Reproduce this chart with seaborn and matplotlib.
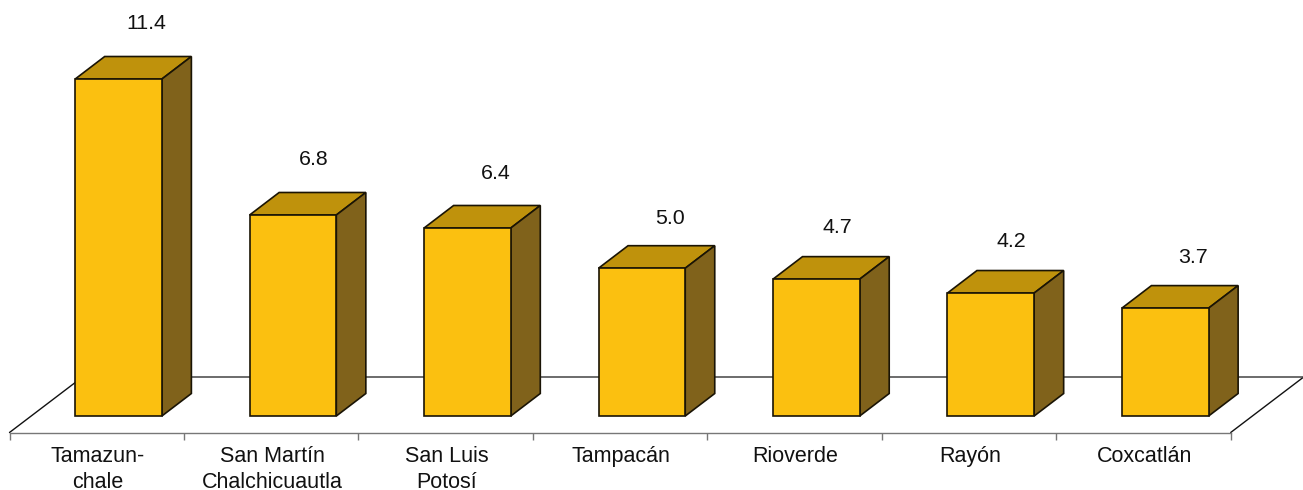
import matplotlib
matplotlib.use("Agg")
import matplotlib.pyplot as plt
from matplotlib.patches import Polygon
from matplotlib.transforms import Affine2D
import numpy as np
import pandas as pd
import seaborn as sns

categories = ["Tamazun-\nchale", "San Martín\nChalchicuautla", "San Luis\nPotosí",
              "Tampacán", "Rioverde", "Rayón", "Coxcatlán"]
values = [11.4, 6.8, 6.36, 5.0, 4.63, 4.16, 3.65]
value_labels = ["11.4", "6.8", "6.4", "5.0", "4.7", "4.2", "3.7"]

FRONT, TOP, SIDE = "#FBC010", "#BF920C", "#80621B"
EDGE = "#1A1405"

W, H = 1303, 490
AX_L, AX_R, AX_B = 9.5, 1230.7, 432.5
PX_PER_UNIT = 29.56
BAR_SHIFT = (21.8, 16.5)    # px from category slot to bar base
BAR_DEPTH = (29.5, 22.5)    # px
FLOOR_DEPTH = (72.6, 55.2)  # px
LABEL_DX = [28, 21, 28, 28, 21.5, 21, 28]   # px
LABEL_DY = [56, 55, 54, 50, 52, 52, 51]     # px
PT = 0.72

sns.set_theme(style="white")
plt.rcParams["font.family"] = ["Liberation Sans", "DejaVu Sans"]

fig = plt.figure(figsize=(W / 100, H / 100), dpi=100)
ax = fig.add_axes([AX_L / W, 1 - AX_B / H, (AX_R - AX_L) / W, AX_B / H])
df = pd.DataFrame({"cat": categories, "val": values})
sns.barplot(data=df, x="cat", y="val", color=FRONT, saturation=1, width=0.497,
            edgecolor=EDGE, linewidth=1.2, ax=ax, zorder=3)
ax.set_xlim(-0.5, len(values) - 0.5)
ax.set_ylim(0, AX_B / PX_PER_UNIT)
ax.set_xlabel("")
ax.set_ylabel("")

px_x = (AX_R - AX_L) / len(values)
to_x = lambda p: p / px_x
to_y = lambda p: p / PX_PER_UNIT

# Floor
fx, fy = to_x(FLOOR_DEPTH[0]), to_y(FLOOR_DEPTH[1])
xl, xr = -0.5, len(values) - 0.5
ax.plot([xl, xl + fx], [0, fy], color="#111111", lw=1.0, clip_on=False, zorder=1)
ax.plot([xr, xr + fx], [0, fy], color="#111111", lw=1.0, clip_on=False, zorder=1)
ax.plot([xl + fx, xr + fx], [fy, fy], color="#444444", lw=1.1, clip_on=False, zorder=1)

# Bars: extruded faces
tr = ax.transData + Affine2D().translate(*BAR_SHIFT)
dx, dy = to_x(BAR_DEPTH[0]), to_y(BAR_DEPTH[1])
for i, (bar, v) in enumerate(zip(ax.patches, values)):
    bar.set_transform(tr)
    bar.set_clip_on(False)
    x0, x1 = bar.get_x(), bar.get_x() + bar.get_width()
    top = Polygon([(x0, v), (x1, v), (x1 + dx, v + dy), (x0 + dx, v + dy)], closed=True,
                  facecolor=TOP, edgecolor=EDGE, lw=1.2, transform=tr, clip_on=False, zorder=2)
    side = Polygon([(x1, 0), (x1, v), (x1 + dx, v + dy), (x1 + dx, dy)], closed=True,
                   facecolor=SIDE, edgecolor=EDGE, lw=1.2, transform=tr, clip_on=False, zorder=2)
    ax.add_patch(top)
    ax.add_patch(side)
    ax.annotate(value_labels[i], xy=((x0 + x1) / 2, v), xycoords=tr,
                xytext=(LABEL_DX[i] * PT, LABEL_DY[i] * PT),
                textcoords="offset points", ha="center", va="center", fontsize=15.4,
                color="#111111", annotation_clip=False)

# Axis
sns.despine(ax=ax, left=True, top=True, right=True)
ax.spines["bottom"].set_color("#777777")
ax.spines["bottom"].set_linewidth(1.0)
ax.set_yticks([])
ax.set_xticks(range(len(values)))
ax.set_xticklabels(categories, fontsize=15.5, color="#111111", linespacing=1.26)
ax.set_xticks(np.arange(len(values) + 1) - 0.5, minor=True)
ax.tick_params(axis="x", which="major", length=0, pad=10)
ax.tick_params(axis="x", which="minor", length=5, width=1.0, color="#777777", bottom=True)
for lab in ax.get_xticklabels():
    lab.set_transform(lab.get_transform() + Affine2D().translate(1, 0))

fig.savefig("out.png", dpi=100)
